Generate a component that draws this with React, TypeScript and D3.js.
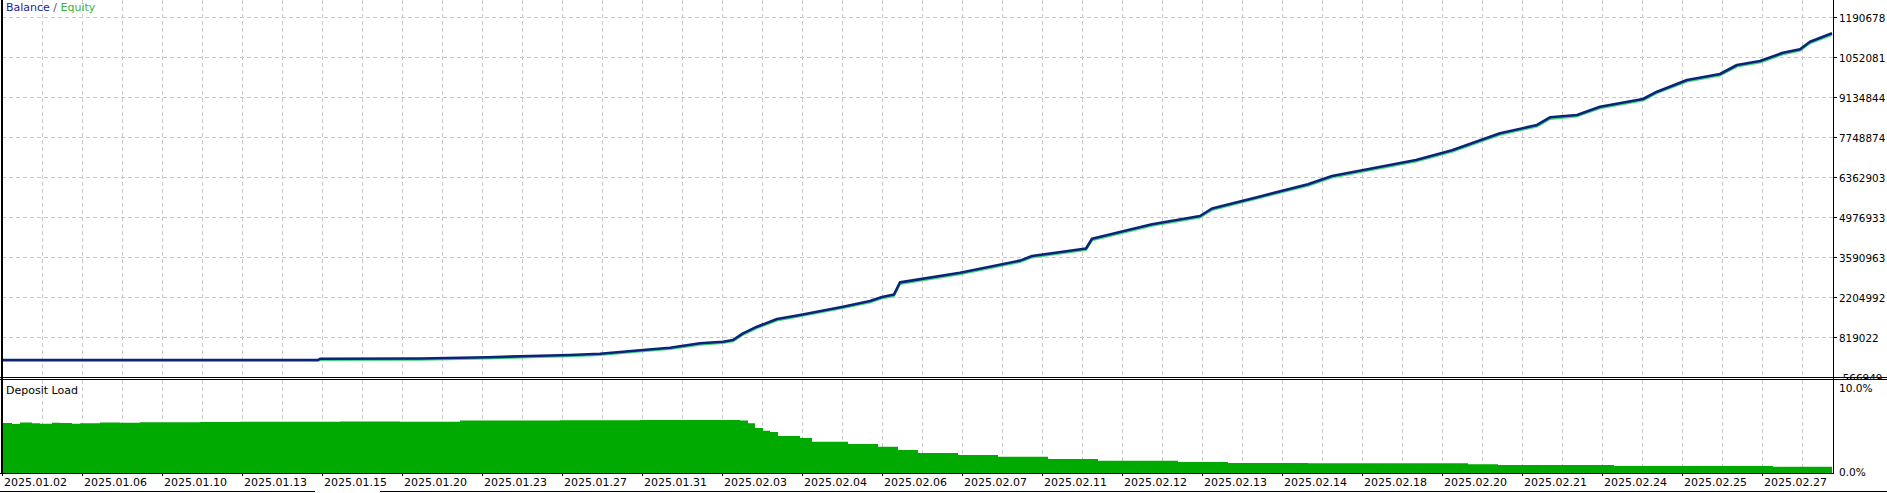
import React, { useEffect } from 'react'
import * as d3 from 'd3'

const W = 1887
const H = 493

// x axis is the deal number, dates are printed every 80 deals
const dateLabels = [
  '2025.01.02', '2025.01.06', '2025.01.10', '2025.01.13', '2025.01.15', '2025.01.20',
  '2025.01.23', '2025.01.27', '2025.01.31', '2025.02.03', '2025.02.04', '2025.02.06',
  '2025.02.07', '2025.02.11', '2025.02.12', '2025.02.13', '2025.02.14', '2025.02.18',
  '2025.02.20', '2025.02.21', '2025.02.24', '2025.02.25', '2025.02.27',
]
const dealsPerLabel = 80
const dealsPerGrid = 40
const lastDeal = 1830

const balanceDeals = [
  0, 316, 318, 418, 486, 528, 568, 598, 641, 668,
  698, 721, 731, 741, 755, 775, 798, 841, 868, 880,
  892, 898, 958, 1018, 1030, 1084, 1090, 1150, 1198, 1210,
  1258, 1306, 1330, 1414, 1450, 1498, 1535, 1548, 1575, 1598,
  1641, 1655, 1685, 1718, 1735, 1758, 1781, 1798, 1808, 1830,
]
const balance = [
  22000, 22000, 64000, 74000, 116000, 161000, 195000, 240000, 369000, 448000,
  601000, 656000, 715000, 947000, 1176000, 1443000, 1581000, 1869000, 2066000, 2205000,
  2292000, 2711000, 3047000, 3466000, 3626000, 3885000, 4222000, 4724000, 5012000, 5271000,
  5691000, 6110000, 6398000, 6952000, 7288000, 7877000, 8165000, 8431000, 8511000, 8799000,
  9066000, 9318000, 9724000, 9932000, 10244000, 10382000, 10670000, 10788000, 11051000, 11342000,
]
const equity = [
  0, 0, 25000, 35000, 78000, 122000, 156000, 200000, 330000, 405000,
  555000, 612000, 672000, 900000, 1130000, 1395000, 1540000, 1825000, 2020000, 2160000,
  2245000, 2660000, 3000000, 3420000, 3580000, 3840000, 4170000, 4675000, 4965000, 5220000,
  5645000, 6060000, 6350000, 6905000, 7240000, 7830000, 8115000, 8380000, 8465000, 8750000,
  9015000, 9270000, 9675000, 9885000, 10195000, 10335000, 10620000, 10740000, 11000000, 11295000,
]
const balanceTicks = [
  -566949, 819022, 2204992, 3590963, 4976933, 6362903, 7748874, 9134844, 10520814, 11906785,
]

const loadDeals = [
  0, 10, 18, 30, 38, 50, 58, 70, 78, 98, 118, 138, 198, 238, 338, 398, 458, 558, 638, 738, 746, 753, 761, 768, 776,
  798, 810, 846, 876, 896, 916, 956, 996, 1046, 1096, 1176, 1226, 1306, 1466, 1496, 1612, 1771, 1830,
]
const depositLoad = [
  5.43, 5.32, 5.5, 5.41, 5.36, 5.47, 5.44, 5.36, 5.4, 5.5, 5.46, 5.52, 5.55, 5.58, 5.6, 5.58, 5.72, 5.74, 5.76, 5.7, 5.4, 4.89, 4.6, 4.46, 4.02,
  3.8, 3.4, 3.15, 2.86, 2.5, 2.17, 1.96, 1.77, 1.52, 1.34, 1.2, 1.1, 1.05, 0.95, 0.87, 0.76, 0.68, 0.68,
]
const loadTicks = [0, 10]

const font = '"DejaVu Sans", Tahoma, sans-serif'
const gridColor = '#c8c8c8'

export default function App() {
  useEffect(() => {
    document.body.style.margin = '0'
  }, [])

  const left = 2
  const axisX = 1833
  const topBottom = 377
  const lowTop = 380
  const lowBottom = 473

  const x = d3.scaleLinear().domain([0, lastDeal]).range([left, axisX - 1])
  const yBal = d3
    .scaleLinear()
    .domain([balanceTicks[0], balanceTicks[balanceTicks.length - 1]])
    .range([topBottom, 17])
  const yLoad = d3.scaleLinear().domain([0, 10]).range([lowBottom, lowTop + 1])

  const gridDeals = d3.range(dealsPerGrid, lastDeal, dealsPerGrid)

  const balLine = d3
    .line<number>()
    .x((d, i) => x(balanceDeals[i]))
    .y((d) => yBal(d))
  const loadArea = d3
    .area<number>()
    .x((d, i) => x(loadDeals[i]))
    .y0(yLoad(0))
    .y1((d) => yLoad(d))
    .curve(d3.curveStepAfter)

  return (
    <svg width={W} height={H} style={{ display: 'block', background: '#fff' }} fontFamily={font}>
      <defs>
        <clipPath id="topClip">
          <rect x={0} y={0} width={axisX} height={topBottom} />
        </clipPath>
      </defs>

      {/* top panel grid */}
      <g shapeRendering="crispEdges" stroke={gridColor} strokeDasharray="4 3">
        {gridDeals.map((d) => (
          <line key={'vt' + d} x1={x(d) + 0.5} x2={x(d) + 0.5} y1={0} y2={topBottom} />
        ))}
        {balanceTicks.slice(1).map((v) => (
          <line key={'h' + v} x1={left} x2={axisX} y1={yBal(v) + 0.5} y2={yBal(v) + 0.5} />
        ))}
      </g>

      {/* balance / equity */}
      <g clipPath="url(#topClip)" fill="none" strokeLinejoin="round">
        <path d={balLine(equity) ?? ''} stroke="#3fd67c" strokeWidth={2.2} />
        <path d={balLine(balance) ?? ''} stroke="#0c2478" strokeWidth={2.6} />
      </g>

      {/* right axis labels, top panel */}
      <g fontSize={10.4} fill="#000">
        {balanceTicks.map((v) => (
          <g key={'bt' + v}>
            <line x1={axisX} x2={axisX + 4} y1={yBal(v) + 0.5} y2={yBal(v) + 0.5} stroke="#000" shapeRendering="crispEdges" />
            <text x={axisX + 6} y={yBal(v) + 2} dominantBaseline="middle">
              {String(v).slice(0, 7)}
            </text>
          </g>
        ))}
      </g>

      <text x={6} y={8} fontSize={11} dominantBaseline="middle">
        <tspan fill="#1c1c9c">Balance</tspan>
        <tspan fill="#555"> / </tspan>
        <tspan fill="#3cb43c">Equity</tspan>
      </text>

      {/* lower panel */}
      <rect x={0} y={lowTop - 1} width={W} height={lowBottom - lowTop + 1} fill="#fff" />
      <g shapeRendering="crispEdges" stroke={gridColor} strokeDasharray="4 3">
        {gridDeals.map((d) => (
          <line key={'vb' + d} x1={x(d) + 0.5} x2={x(d) + 0.5} y1={lowTop} y2={lowBottom} />
        ))}
      </g>
      <path d={loadArea(depositLoad) ?? ''} fill="#00aa00" />
      <text x={6} y={391} fontSize={11} dominantBaseline="middle" fill="#000">
        Deposit Load
      </text>
      <g fontSize={10.6} fill="#000">
        {loadTicks.map((v) => (
          <text key={'lt' + v} x={axisX + 6} y={Math.max(yLoad(v), lowTop + 9)} dominantBaseline="middle">
            {v.toFixed(1)}%
          </text>
        ))}
      </g>

      {/* frame */}
      <g stroke="#000" shapeRendering="crispEdges">
        <line x1={1.5} x2={1.5} y1={0} y2={lowBottom} strokeWidth={2} />
        <line x1={axisX + 0.5} x2={axisX + 0.5} y1={0} y2={lowBottom} />
        <line x1={0} x2={W} y1={topBottom + 0.5} y2={topBottom + 0.5} />
        <line x1={0} x2={W} y1={lowTop - 0.5} y2={lowTop - 0.5} />
        <line x1={0} x2={axisX + 1} y1={lowBottom + 0.5} y2={lowBottom + 0.5} />
        <line x1={0} x2={315} y1={491.5} y2={491.5} />
        <line x1={380} x2={W} y1={491.5} y2={491.5} />
      </g>

      {/* date axis */}
      <g fontSize={11} fill="#000">
        {dateLabels.map((label, i) => {
          const px = x(i * dealsPerLabel)
          return (
            <g key={label}>
              <line x1={px + 0.5} x2={px + 0.5} y1={lowBottom} y2={lowBottom + 3} stroke="#000" shapeRendering="crispEdges" />
              <text x={px + 2} y={483} dominantBaseline="middle">
                {label}
              </text>
            </g>
          )
        })}
      </g>
    </svg>
  )
}
